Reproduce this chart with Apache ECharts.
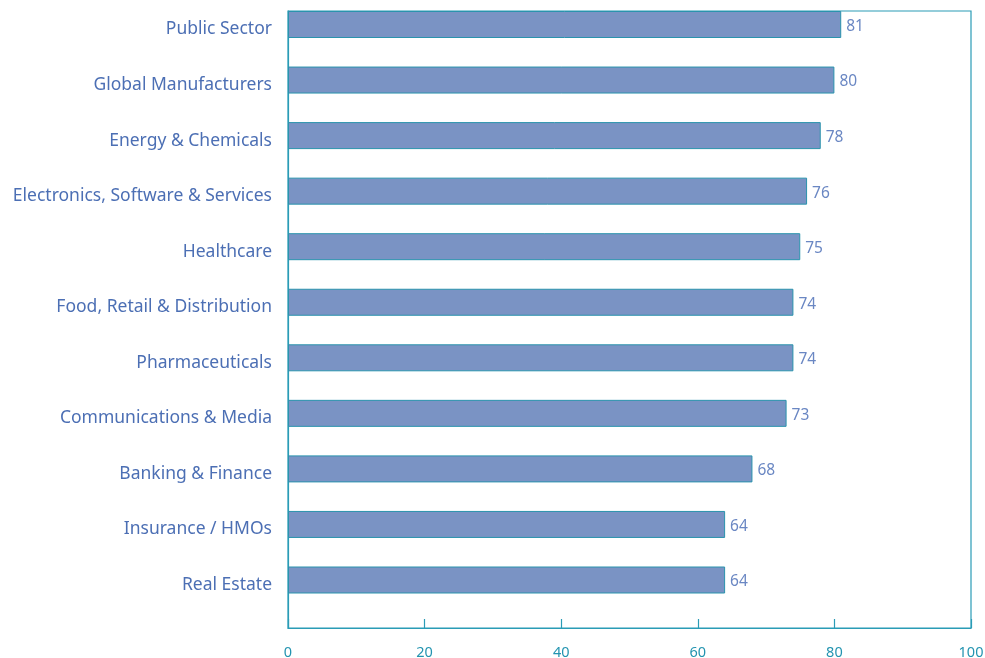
<!DOCTYPE html>
<html>
<head>
<meta charset="utf-8">
<script src="https://cdn.jsdelivr.net/npm/echarts@6/dist/echarts.min.js"></script>
<style>
html,body{margin:0;padding:0;background:#fff;}
#chart{width:985px;height:658px;}
</style>
</head>
<body>
<div id="chart"></div>
<script>
const categories = [
  "Public Sector",
  "Global Manufacturers",
  "Energy & Chemicals",
  "Electronics, Software & Services",
  "Healthcare",
  "Food, Retail & Distribution",
  "Pharmaceuticals",
  "Communications & Media",
  "Banking & Finance",
  "Insurance / HMOs",
  "Real Estate"
];
const values = [81, 80, 78, 76, 75, 74, 74, 73, 68, 64, 64];
const xTicks = [0, 20, 40, 60, 80, 100];

const teal = '#2a9cb6';
const font = '"Noto Sans", "Open Sans", sans-serif';
const chart = echarts.init(document.getElementById('chart'), null, {renderer: 'canvas'});
chart.setOption({
  animation: false,
  grid: [
    {left: 288, right: 14, top: 24.5, bottom: 78, show: false, outerBoundsMode: 'none', containLabel: false},
    {left: 288, right: 14, top: 11, bottom: 30, show: true, borderColor: teal, borderWidth: 1.2, backgroundColor: 'transparent', outerBoundsMode: 'none', containLabel: false}
  ],
  xAxis: [
    {gridIndex: 0, type: 'value', min: xTicks[0], max: xTicks[xTicks.length-1], interval: 20, show: false},
    {gridIndex: 1, type: 'value', min: xTicks[0], max: xTicks[xTicks.length-1], interval: 20,
      axisLine: {show: true, lineStyle: {color: teal, width: 1.2}},
      axisTick: {show: true, inside: true, length: 9, lineStyle: {color: teal, width: 1.2}},
      splitLine: {show: false},
      axisLabel: {color: '#2394b0', fontSize: 14.5, margin: 17, fontFamily: font}
    }
  ],
  yAxis: [
    {gridIndex: 0, type: 'category', data: categories, inverse: true, boundaryGap: false,
      axisLine: {show: false}, axisTick: {show: false}, splitLine: {show: false},
      axisLabel: {color: '#4c6fb4', fontSize: 17.5, margin: 16, fontFamily: font, verticalAlign: 'top', lineHeight: 10}
    },
    {gridIndex: 1, type: 'category', data: [], axisLine: {show: true, lineStyle: {color: teal, width: 1.2}},
      axisTick: {show: false}, axisLabel: {show: false}, splitLine: {show: false}}
  ],
  series: [{
    type: 'bar',
    xAxisIndex: 0,
    yAxisIndex: 0,
    data: values,
    barWidth: 27,
    clip: false,
    itemStyle: {color: '#7a93c4', borderColor: '#2a93ad', borderWidth: 1},
    label: {show: true, position: 'right', distance: 5, color: '#6a87c3', fontSize: 15.5, fontFamily: font, verticalAlign: 'top', lineHeight: 4}
  }]
});
</script>
</body>
</html>
